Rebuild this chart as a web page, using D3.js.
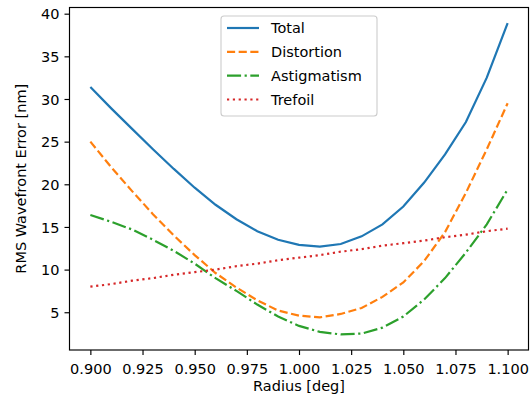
<!DOCTYPE html>
<html>
<head>
<meta charset="utf-8">
<script src="https://cdn.jsdelivr.net/npm/d3@7"></script>
<style>
  body { margin: 0; background: #fff; }
  svg text { font-family: 'DejaVu Sans', sans-serif; font-size: 14.5px; fill: #000; }
</style>
</head>
<body>
<script>
const radius = [0.90, 0.91, 0.92, 0.93, 0.94, 0.95, 0.96, 0.97, 0.98, 0.99, 1.00,
                1.01, 1.02, 1.03, 1.04, 1.05, 1.06, 1.07, 1.08, 1.09, 1.10];
const total = [31.4, 28.9, 26.5, 24.1, 21.8, 19.6, 17.6, 15.9, 14.5, 13.5, 12.9,
               12.7, 13.0, 13.9, 15.3, 17.4, 20.2, 23.5, 27.3, 32.5, 38.9];
const distortion = [25.0, 22.0, 19.2, 16.5, 14.0, 11.7, 9.6, 7.9, 6.4, 5.2, 4.6,
                    4.4, 4.8, 5.5, 6.8, 8.5, 11.0, 14.4, 19.0, 24.1, 29.5];
const astigmatism = [16.4, 15.6, 14.7, 13.5, 12.2, 10.7, 9.0, 7.5, 5.9, 4.5, 3.4,
                     2.7, 2.4, 2.5, 3.2, 4.5, 6.5, 9.0, 12.0, 15.3, 19.4];
const trefoil = [8.0, 8.3, 8.7, 9.0, 9.4, 9.7, 10.0, 10.4, 10.7, 11.1, 11.4,
                 11.7, 12.1, 12.4, 12.8, 13.1, 13.4, 13.8, 14.1, 14.5, 14.8];
const seriesNames = ['Total', 'Distortion', 'Astigmatism', 'Trefoil'];
const xTicks = [0.900, 0.925, 0.950, 0.975, 1.000, 1.025, 1.050, 1.075, 1.100];
const yTicks = [5, 10, 15, 20, 25, 30, 35, 40];

const width = 531, height = 400;
const plotLeft = 69.5, plotRight = 528.5, plotTop = 7.5, plotBottom = 350;
const lw = 2.2;

const svg = d3.select('body')
  .append('svg')
  .attr('width', width)
  .attr('height', height);

const x = d3.scaleLinear().domain([0.89, 1.11]).range([plotLeft, plotRight]);
const y = d3.scaleLinear().domain([0.575, 40.725]).range([plotBottom, plotTop]);

// series styling (matplotlib default cycle + dash patterns scaled by line width)
const series = [
  { name: seriesNames[0], values: total, color: '#1f77b4', dash: null },
  { name: seriesNames[1], values: distortion, color: '#ff7f0e', dash: [3.7 * lw, 1.6 * lw] },
  { name: seriesNames[2], values: astigmatism, color: '#2ca02c', dash: [6.4 * lw, 1.6 * lw, 1 * lw, 1.6 * lw] },
  { name: seriesNames[3], values: trefoil, color: '#d62728', dash: [1 * lw, 1.65 * lw] }
];

const line = d3.line()
  .x((d, i) => x(radius[i]))
  .y(d => y(d));

svg.selectAll('path.series')
  .data(series)
  .enter()
  .append('path')
  .attr('class', 'series')
  .attr('d', d => line(d.values))
  .attr('fill', 'none')
  .attr('stroke', d => d.color)
  .attr('stroke-width', lw)
  .attr('stroke-dasharray', d => d.dash ? d.dash.join(',') : null);

// axes
const xAxis = d3.axisBottom(x)
  .tickValues(xTicks)
  .tickFormat(d3.format('.3f'))
  .tickSizeInner(5)
  .tickSizeOuter(0)
  .tickPadding(5);

const yAxis = d3.axisLeft(y)
  .tickValues(yTicks)
  .tickFormat(d3.format('d'))
  .tickSizeInner(5)
  .tickSizeOuter(0)
  .tickPadding(5);

const gx = svg.append('g')
  .attr('transform', 'translate(0,' + plotBottom + ')')
  .call(xAxis);
gx.select('.domain').remove();
gx.selectAll('line').attr('stroke', '#000').attr('stroke-width', 1.16);
gx.selectAll('text').attr('dy', '0.95em').style('font-size', '14.5px');

const gy = svg.append('g')
  .attr('transform', 'translate(' + plotLeft + ',0)')
  .call(yAxis);
gy.select('.domain').remove();
gy.selectAll('line').attr('stroke', '#000').attr('stroke-width', 1.16);
gy.selectAll('text').attr('dy', '0.36em').style('font-size', '14.5px');

// frame
svg.append('rect')
  .attr('x', plotLeft)
  .attr('y', plotTop)
  .attr('width', plotRight - plotLeft)
  .attr('height', plotBottom - plotTop)
  .attr('fill', 'none')
  .attr('stroke', '#000')
  .attr('stroke-width', 1.16);

// axis labels
svg.append('text')
  .attr('x', (plotLeft + plotRight) / 2)
  .attr('y', 391)
  .attr('text-anchor', 'middle')
  .text('Radius [deg]');

svg.append('text')
  .attr('transform', 'rotate(-90)')
  .attr('x', -(plotTop + plotBottom) / 2)
  .attr('y', 26)
  .attr('text-anchor', 'middle')
  .text('RMS Wavefront Error [nm]');

// legend
const legend = svg.append('g').attr('class', 'legend');

legend.append('rect')
  .attr('x', 221)
  .attr('y', 16)
  .attr('width', 156)
  .attr('height', 100)
  .attr('rx', 3)
  .attr('fill', '#fff')
  .attr('fill-opacity', 0.8)
  .attr('stroke', '#cccccc')
  .attr('stroke-width', 1.1);

const rowY = d3.scalePoint().domain(seriesNames).range([28, 99.5]);

legend.selectAll('line.key')
  .data(series)
  .enter()
  .append('line')
  .attr('class', 'key')
  .attr('x1', 227)
  .attr('x2', 259)
  .attr('y1', d => rowY(d.name))
  .attr('y2', d => rowY(d.name))
  .attr('stroke', d => d.color)
  .attr('stroke-width', lw)
  .attr('stroke-dasharray', d => d.dash ? d.dash.join(',') : null);

legend.selectAll('text.key')
  .data(series)
  .enter()
  .append('text')
  .attr('class', 'key')
  .attr('x', 271)
  .attr('y', d => rowY(d.name) + 5.3)
  .text(d => d.name);
</script>
</body>
</html>
